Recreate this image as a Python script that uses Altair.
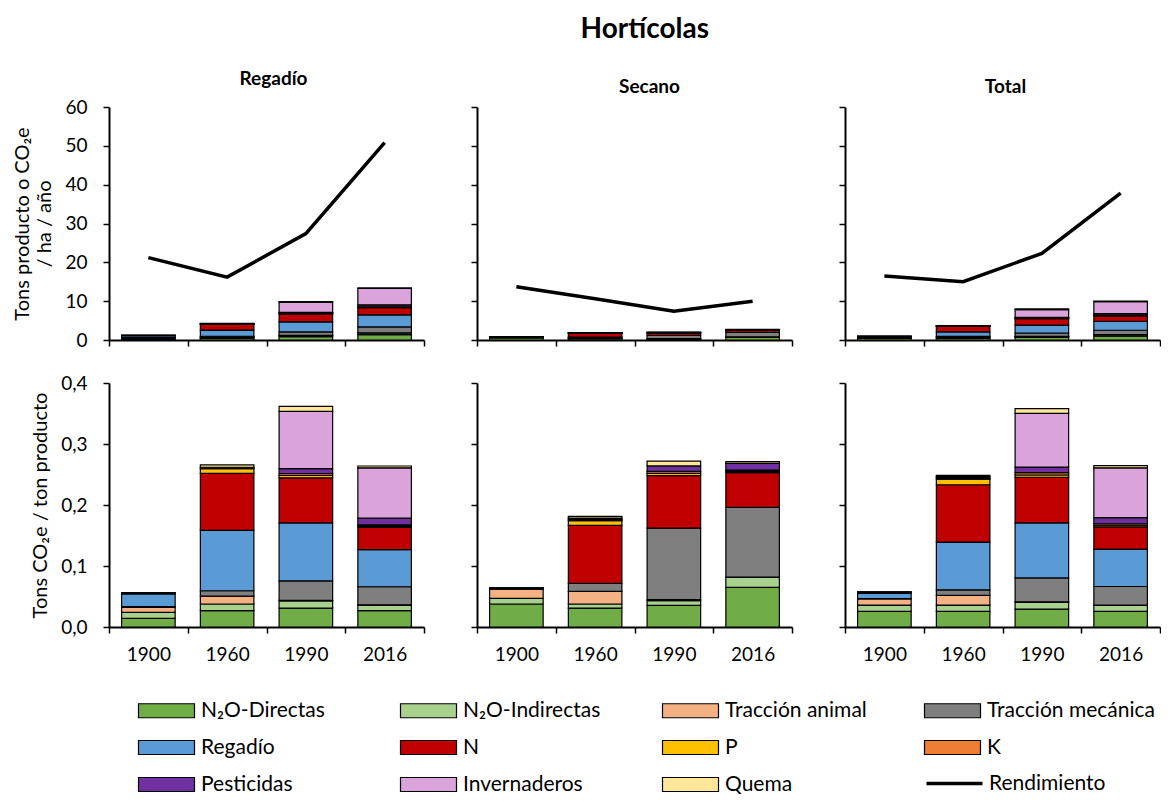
import altair as alt
import pandas as pd

years = ["1900", "1960", "1990", "2016"]
components = ["N₂O-Directas", "N₂O-Indirectas", "Tracción animal", "Tracción mecánica",
              "Regadío", "N", "P", "K", "Pesticidas", "Invernaderos", "Quema"]
colors = ["#70AD47", "#A9D18E", "#F4B183", "#7F7F7F", "#5B9BD5", "#C00000",
          "#FFC000", "#ED7D31", "#7030A0", "#DBA3DB", "#FFE699"]
line_name = ["Rendimiento"]
headers = ["Regadío", "Secano", "Total"]
header_dx = [7, 15, 3]

# Rendimiento (tons producto / ha / año)
rend_regadio = [21.2, 16.2, 27.4, 50.8]
rend_secano = [13.7, 10.6, 7.4, 10.0]
rend_total = [16.5, 15.0, 22.3, 37.8]

# Tons CO2e / ha / año  (rows: years, columns: components)
regadio_ha = [
    [0.30, 0.21, 0.17, 0.02, 0.45, 0.03, 0.006, 0.004, 0.004, 0, 0],
    [0.43, 0.18, 0.21, 0.14, 1.60, 1.51, 0.12, 0.02, 0.02, 0, 0.06],
    [0.85, 0.32, 0.03, 0.88, 2.60, 2.03, 0.11, 0.08, 0.22, 2.58, 0.22],
    [1.36, 0.47, 0.03, 1.50, 3.09, 1.86, 0.10, 0.10, 0.56, 4.19, 0.15],
]
secano_ha = [
    [0.52, 0.13, 0.21, 0.007, 0, 0.016, 0.003, 0.001, 0.003, 0, 0],
    [0.33, 0.07, 0.22, 0.14, 0, 1.01, 0.08, 0.02, 0.02, 0, 0.03],
    [0.26, 0.06, 0.015, 0.87, 0, 0.64, 0.03, 0.02, 0.07, 0, 0.06],
    [0.65, 0.17, 0.003, 1.14, 0, 0.57, 0.02, 0.02, 0.11, 0, 0.03],
]
total_ha = [
    [0.42, 0.17, 0.17, 0.008, 0.14, 0.025, 0.008, 0.003, 0.005, 0, 0],
    [0.38, 0.15, 0.24, 0.14, 1.17, 1.41, 0.14, 0.03, 0.03, 0, 0.03],
    [0.66, 0.25, 0.02, 0.87, 2.02, 1.66, 0.09, 0.09, 0.20, 1.96, 0.18],
    [0.97, 0.37, 0.02, 1.15, 2.32, 1.38, 0.09, 0.09, 0.38, 3.08, 0.14],
]

# Tons CO2e / ton producto
regadio_ton = [
    [0.0143, 0.0098, 0.0082, 0.001, 0.021, 0.0015, 0.0003, 0.0002, 0.0002, 0, 0],
    [0.0267, 0.011, 0.013, 0.0087, 0.099, 0.0935, 0.0075, 0.001, 0.0015, 0, 0.004],
    [0.031, 0.0116, 0.001, 0.032, 0.095, 0.074, 0.004, 0.003, 0.008, 0.094, 0.008],
    [0.0267, 0.0093, 0.0005, 0.0295, 0.0608, 0.0366, 0.002, 0.002, 0.011, 0.0825, 0.003],
]
secano_ton = [
    [0.0377, 0.0093, 0.015, 0.0005, 0, 0.0012, 0.0002, 0.0001, 0.0002, 0, 0],
    [0.031, 0.0067, 0.0208, 0.013, 0, 0.095, 0.008, 0.002, 0.002, 0, 0.003],
    [0.0355, 0.0075, 0.002, 0.117, 0, 0.086, 0.004, 0.003, 0.009, 0, 0.008],
    [0.065, 0.0166, 0.0003, 0.1143, 0, 0.057, 0.002, 0.002, 0.011, 0, 0.003],
]
total_ton = [
    [0.0256, 0.0103, 0.0103, 0.0005, 0.0085, 0.0015, 0.0005, 0.0002, 0.0003, 0, 0],
    [0.0256, 0.0103, 0.0158, 0.0092, 0.0783, 0.094, 0.0093, 0.002, 0.002, 0, 0.002],
    [0.0294, 0.011, 0.001, 0.039, 0.0904, 0.0744, 0.004, 0.004, 0.0089, 0.088, 0.008],
    [0.0256, 0.0098, 0.0005, 0.0305, 0.0614, 0.0365, 0.0025, 0.0025, 0.010, 0.0816, 0.0038],
]

W = 315
FONT = "Lato"
LEG_X, LEG_Y, COL_STEP, ROW_STEP = 26, 593, 265, 37
RECT = "M-4,-1H4V1H-4Z"
LINE = "M-4,0H4"


def make_df(matrix):
    rows = []
    for yi, yr in enumerate(years):
        for ci, comp in enumerate(components):
            v = matrix[yi][ci]
            if v > 0:
                rows.append({"year": yr, "component": comp, "value": v, "ord": ci})
    return pd.DataFrame(rows)


leg_common = dict(title=None, orient="none", symbolSize=196, symbolOffset=21,
                  symbolStrokeColor="black", symbolOpacity=1, labelFont=FONT,
                  labelFontSize=21, labelColor="black", labelOffset=24, labelLimit=0)
color_enc = alt.Color(
    "component:N",
    scale=alt.Scale(domain=components, range=colors),
    legend=alt.Legend(legendX=LEG_X, legendY=LEG_Y, direction="horizontal",
                      columns=4, gridAlign="all", columnPadding=28, rowPadding=15,
                      symbolType=RECT, symbolStrokeWidth=1.2, **leg_common),
)
stroke_enc = alt.Stroke(
    "serie:N",
    scale=alt.Scale(domain=line_name, range=["#000000"]),
    legend=alt.Legend(legendX=LEG_X + 3 * COL_STEP - 7,
                      legendY=LEG_Y + 2 * ROW_STEP - 1,
                      symbolType=LINE, symbolStrokeWidth=3.5, **leg_common),
)


def panel(matrix, rend, top, first, header=None, hdx=0):
    df = make_df(matrix)
    if top:
        ydom, yvals, h = [0, 60], [0, 10, 20, 30, 40, 50, 60], 233
        ytitle = ["Tons producto o CO₂e", "/ ha / año"]
        lexpr = "format(datum.value, 'd')"
    else:
        ydom, yvals, h = [0, 0.4], [0, 0.1, 0.2, 0.3, 0.4], 244
        ytitle = "Tons CO₂e / ton producto"
        lexpr = "replace(format(datum.value, '.1f'), '.', ',')"
    x = alt.X("year:N", sort=years,
              scale=alt.Scale(domain=years, paddingInner=0, paddingOuter=0),
              axis=alt.Axis(title=None, labels=not top, tickBand="extent",
                            labelAngle=0, labelPadding=12))
    yaxis = alt.Axis(values=yvals, labels=first, labelExpr=lexpr,
                     title=ytitle if first else None, labelPadding=16,
                     titlePadding=10)
    y = alt.Y("value:Q", stack="zero",
              scale=alt.Scale(domain=ydom, nice=False, zero=True), axis=yaxis)
    bars = alt.Chart(df).mark_bar(
        width=alt.RelativeBandSize(0.68), stroke="black", strokeWidth=1.2
    ).encode(x=x, y=y, color=color_enc, order=alt.Order("ord:Q", sort="ascending"))
    layers = [bars]
    if top:
        ldf = pd.DataFrame({"year": years, "rend": rend, "serie": line_name * len(years)})
        line = alt.Chart(ldf).mark_line(strokeWidth=3.5).encode(
            x=x,
            y=alt.Y("rend:Q", scale=alt.Scale(domain=ydom, nice=False), axis=yaxis),
            stroke=stroke_enc)
        layers.append(line)
    ch = alt.layer(*layers).properties(width=W, height=h)
    if header:
        ch = ch.properties(title=alt.TitleParams(
            header, fontSize=19, fontWeight="bold", font=FONT, color="black",
            anchor="middle", frame="group", offset=9, dx=hdx))
    return ch


panels = [
    panel(regadio_ha, rend_regadio, True, True, headers[0], header_dx[0]),
    panel(secano_ha, rend_secano, True, False, headers[1], header_dx[1]),
    panel(total_ha, rend_total, True, False, headers[2], header_dx[2]),
    panel(regadio_ton, None, False, True),
    panel(secano_ton, None, False, False),
    panel(total_ton, None, False, False),
]

chart = alt.concat(
    *panels, columns=3, spacing={"row": 43, "column": 53}, bounds="flush",
    title=alt.TitleParams("Hortícolas", fontSize=28, fontWeight="bold", font=FONT,
                          color="black", anchor="middle", frame="bounds", dx=58,
                          offset=26),
).resolve_scale(color="shared", stroke="shared").properties(
    padding={"left": 4, "top": 8, "right": 0, "bottom": 0}
).configure(
    font=FONT
).configure_view(stroke=None).configure_axis(
    domainColor="black", domainWidth=2, tickColor="black", tickWidth=1.5,
    tickSize=6, labelFont=FONT, labelFontSize=19, labelColor="black",
    titleFont=FONT, titleFontSize=20, titleFontWeight="normal", titleColor="black",
    grid=False,
)

chart.save("out.html", embed_options={"renderer": "svg", "actions": False})
